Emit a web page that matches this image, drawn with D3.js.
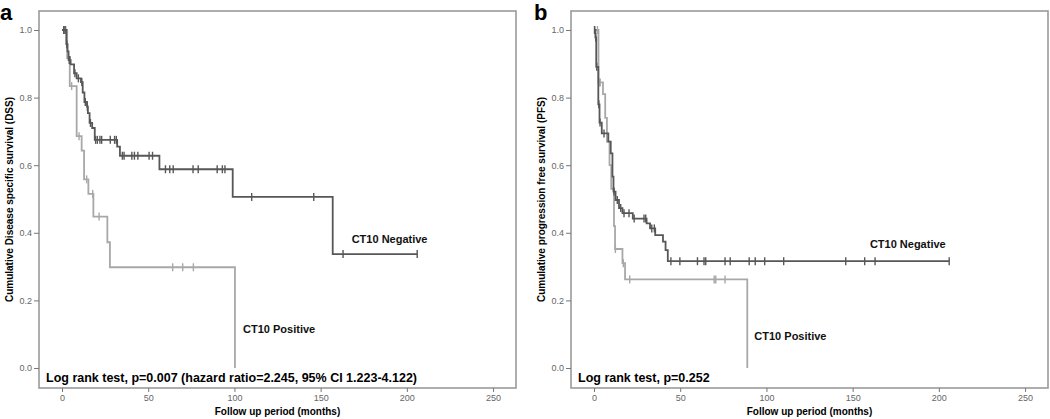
<!DOCTYPE html>
<html><head><meta charset="utf-8">
<script src="https://cdn.jsdelivr.net/npm/d3@7"></script>
<style>
html,body{margin:0;padding:0;background:#fff;}
svg{display:block;font-family:"Liberation Sans",Arial,sans-serif;}
</style></head>
<body>
<svg id="chart" width="1050" height="419"></svg>
<script>
// ---------- data ----------
const panelLetters = ["a", "b"];
const yTitles = ["Cumulative Disease specific survival (DSS)", "Cumulative progression free survival (PFS)"];
const xTitle = "Follow up period (months)";
const xTicks = [0, 50, 100, 150, 200, 250];
const yTicks = [0.0, 0.2, 0.4, 0.6, 0.8, 1.0];
const groupNames = ["CT10 Negative", "CT10 Positive"];
const testTexts = ["Log rank test, p=0.007 (hazard ratio=2.245, 95% CI 1.223-4.122)", "Log rank test, p=0.252"];

// Panel a (DSS) - CT10 Negative: step times and survival after each step
const aNegTime = [0, 2.5, 3.2, 3.8, 5, 7, 8.5, 11, 12, 13, 14.5, 15, 16, 17.5, 19, 32, 33.6, 56.5, 99, 157, 206];
const aNegSurv = [1, 0.958, 0.937, 0.911, 0.898, 0.872, 0.857, 0.846, 0.815, 0.787, 0.773, 0.754, 0.725, 0.71, 0.675, 0.655, 0.628, 0.588, 0.506, 0.337, 0.337];
const aNegCens = [1, 1.8, 2.8, 4.2, 4.6, 7.5, 9.5, 11.5, 13.5, 14.7, 16.5, 19.5, 20.5, 22, 23, 28, 30.5, 31.5, 35, 36, 40.5, 42, 44, 50.5, 52.5, 60, 62.5, 64.5, 76, 79, 90, 93, 94.5, 110, 146, 163, 206];
// Panel a - CT10 Positive
const aPosTime = [0, 3, 4.5, 8.5, 11.4, 12.8, 15.3, 18.2, 26.3, 27.8, 100.3];
const aPosSurv = [1, 0.917, 0.834, 0.686, 0.643, 0.558, 0.515, 0.448, 0.372, 0.298, 0];
const aPosCens = [1.5, 2.2, 5.6, 9.9, 14.3, 17.8, 21.5, 64.2, 70, 76.2];

// Panel b (PFS) - CT10 Negative
const bNegTime = [0, 0.8, 1.3, 2.5, 3.2, 4.5, 8.3, 9.7, 10.7, 11.3, 12.5, 14.5, 16.5, 22.5, 30.5, 32.5, 35.5, 40, 41.5, 42.8, 206];
const bNegSurv = [1, 0.978, 0.891, 0.78, 0.726, 0.694, 0.67, 0.635, 0.566, 0.522, 0.497, 0.473, 0.458, 0.442, 0.428, 0.413, 0.393, 0.374, 0.349, 0.316, 0.316];
const bNegCens = [0.3, 1, 1.6, 2.8, 3.5, 5.8, 11.6, 13.5, 15.5, 17.4, 20.3, 23.3, 29, 30, 33.5, 35, 44.6, 49.8, 60, 63.8, 64.8, 76, 79, 90, 93.5, 99, 110, 146, 157, 163, 206];
// Panel b - CT10 Positive
const bPosTime = [0, 2.6, 5.2, 6.5, 7.5, 9, 10, 11.6, 12.2, 16.5, 18, 88.9];
const bPosSurv = [1, 0.845, 0.81, 0.74, 0.67, 0.6, 0.53, 0.42, 0.352, 0.31, 0.262, 0];
const bPosCens = [0.5, 2, 3, 3.6, 12.4, 17, 20.7, 69.7, 70.6, 76];

// label anchor positions in data units (time, survival)
const negLabelAt = [[168, 0.37], [160, 0.355]];
const posLabelAt = [[105, 0.103], [93, 0.083]];

// ---------- drawing ----------
const svg = d3.select("#chart");
const negColor = "#575757", posColor = "#a8a8a8", frameColor = "#9a9a9a";

const panels = [
  {off: 0, neg: [aNegTime, aNegSurv, aNegCens], pos: [aPosTime, aPosSurv, aPosCens]},
  {off: 532, neg: [bNegTime, bNegSurv, bNegCens], pos: [bPosTime, bPosSurv, bPosCens]}
];

const x = d3.scaleLinear().domain([-13.34, 263.3]).range([39, 516]);
const y = d3.scaleLinear().domain([-0.0592, 1.0562]).range([388, 11]);

function survAt(times, surv, t) {
  let s = surv[0];
  for (let i = 0; i < times.length; i++) if (times[i] <= t) s = surv[i];
  return s;
}

panels.forEach((p, i) => {
  const g = svg.append("g").attr("transform", `translate(${p.off},0)`);

  // panel letter
  g.append("text").attr("x", i === 0 ? 0 : 2).attr("y", 20)
    .attr("font-size", 22).attr("font-weight", "bold").attr("fill", "#000")
    .text(panelLetters[i]);

  // frame
  g.append("rect").attr("x", x.range()[0]).attr("y", y.range()[1])
    .attr("width", x.range()[1] - x.range()[0]).attr("height", y.range()[0] - y.range()[1])
    .attr("fill", "none").attr("stroke", frameColor).attr("stroke-width", 1.6);

  // x axis
  const xa = g.append("g").attr("transform", `translate(0,${y.range()[0]})`)
    .call(d3.axisBottom(x).tickValues(xTicks).tickSize(4).tickPadding(3).tickFormat(d3.format("d")));
  xa.select(".domain").remove();
  xa.selectAll("line").attr("stroke", "#777");
  xa.selectAll("text").attr("font-size", 9).attr("fill", "#666").attr("font-family", "Liberation Sans, Arial, sans-serif");

  // y axis
  const ya = g.append("g").attr("transform", `translate(${x.range()[0]},0)`)
    .call(d3.axisLeft(y).tickValues(yTicks).tickSize(5).tickPadding(2).tickFormat(d3.format(".1f")));
  ya.select(".domain").remove();
  ya.selectAll("line").attr("stroke", "#777");
  ya.selectAll("text").attr("font-size", 9).attr("fill", "#666").attr("font-family", "Liberation Sans, Arial, sans-serif");

  // titles
  g.append("text").attr("x", (x.range()[0] + x.range()[1]) / 2).attr("y", 415)
    .attr("text-anchor", "middle").attr("font-size", 10).attr("font-weight", "bold").text(xTitle);
  const cy = (y.range()[0] + y.range()[1]) / 2;
  g.append("text").attr("transform", `translate(13,${cy}) rotate(-90)`)
    .attr("text-anchor", "middle").attr("font-size", 10).attr("font-weight", "bold").text(yTitles[i]);

  const line = d3.line().x(d => x(d[0])).y(d => y(d[1])).curve(d3.curveStepAfter);

  [[p.pos, posColor], [p.neg, negColor]].forEach(([c, col]) => {
    const [times, surv, cens] = c;
    const pts = times.map((t, k) => [t, surv[k]]);
    g.append("path").datum(pts).attr("d", line)
      .attr("fill", "none").attr("stroke", col).attr("stroke-width", 1.8);
    g.selectAll(null).data(cens).enter().append("line")
      .attr("x1", d => x(d)).attr("x2", d => x(d))
      .attr("y1", d => y(survAt(times, surv, d)) - 4)
      .attr("y2", d => y(survAt(times, surv, d)) + 4)
      .attr("stroke", col).attr("stroke-width", 1.4);
  });

  // group labels
  g.append("text").attr("x", x(negLabelAt[i][0])).attr("y", y(negLabelAt[i][1]))
    .attr("font-size", 11).attr("font-weight", "bold").attr("fill", "#111").text(groupNames[0]);
  g.append("text").attr("x", x(posLabelAt[i][0])).attr("y", y(posLabelAt[i][1]))
    .attr("font-size", 11).attr("font-weight", "bold").attr("fill", "#111").text(groupNames[1]);

  // log rank text
  g.append("text").attr("x", 46).attr("y", 382)
    .attr("font-size", 12.5).attr("font-weight", "bold").attr("fill", "#000").text(testTexts[i]);
});
</script>
</body></html>
